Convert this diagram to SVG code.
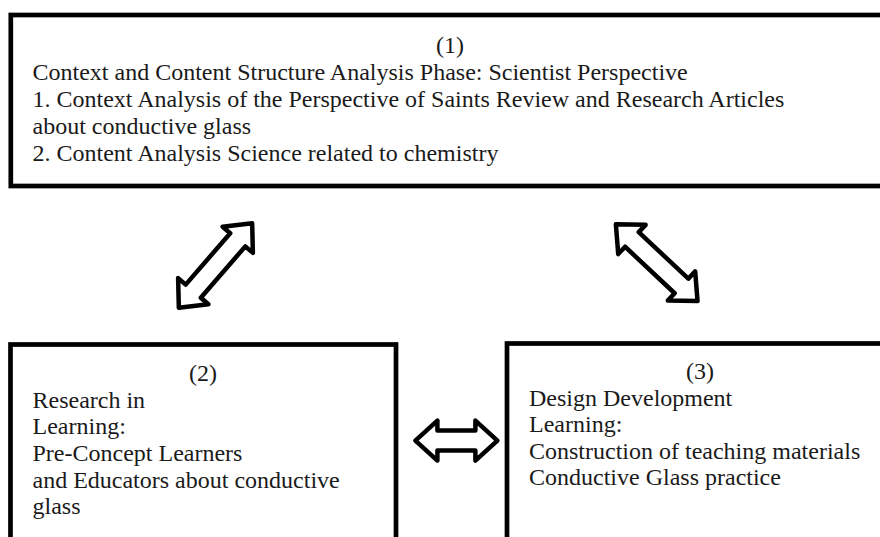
<svg xmlns="http://www.w3.org/2000/svg" width="880" height="537" viewBox="0 0 880 537">
  <style>
    .box { fill: #ffffff; stroke: #000000; stroke-width: 4.7; }
    .arrow { fill: #ffffff; stroke: #000000; stroke-width: 4.5; stroke-linejoin: round; }
    text { font-family: "Liberation Serif", "Times New Roman", serif; font-size: 24px; fill: #1a1a1a; }
    .head { text-anchor: middle; }
  </style>
  <rect width="880" height="537" fill="#ffffff"/>

  <!-- Phase 1: context and content structure analysis -->
  <g id="node-phase1">
    <rect class="box" x="10.8" y="15" width="880" height="171"/>
    <text class="head" x="450" y="53">(1)</text>
    <text x="32.5" y="80">Context and Content Structure Analysis Phase: Scientist Perspective</text>
    <text x="32.5" y="107">1. Context Analysis of the Perspective of Saints Review and Research Articles</text>
    <text x="32.5" y="134">about conductive glass</text>
    <text x="32.5" y="161">2. Content Analysis Science related to chemistry</text>
  </g>

  <!-- Phase 2: research in learning -->
  <g id="node-phase2">
    <rect class="box" x="10.5" y="344.5" width="385.5" height="210"/>
    <text class="head" x="203" y="381">(2)</text>
    <text x="32.5" y="407.5">Research in</text>
    <text x="32.5" y="434">Learning:</text>
    <text x="32.5" y="460.5">Pre-Concept Learners</text>
    <text x="32.5" y="487.5">and Educators about conductive</text>
    <text x="32.5" y="514">glass</text>
  </g>

  <!-- Phase 3: design development -->
  <g id="node-phase3">
    <rect class="box" x="507" y="343.5" width="400" height="210"/>
    <text class="head" x="700" y="379">(3)</text>
    <text x="529" y="405.5">Design Development</text>
    <text x="529" y="432">Learning:</text>
    <text x="529" y="458.5">Construction of teaching materials</text>
    <text x="529" y="485">Conductive Glass practice</text>
  </g>

  <!-- Two-headed block arrows between the phases -->
  <g id="connectors">
    <path class="arrow" transform="translate(215.5 265.5) rotate(-49.1)"
          d="M -56 0 L -34 -20 L -34 -10 L 34 -10 L 34 -20 L 56 0 L 34 20 L 34 10 L -34 10 L -34 20 Z"/>
    <path class="arrow" transform="translate(656.7 262.7) rotate(43.2)"
          d="M -56 0 L -34 -20 L -34 -10 L 34 -10 L 34 -20 L 56 0 L 34 20 L 34 10 L -34 10 L -34 20 Z"/>
    <path class="arrow" transform="translate(456.4 440.6)"
          d="M -41 0 L -19 -20 L -19 -10 L 19 -10 L 19 -20 L 41 0 L 19 20 L 19 10 L -19 10 L -19 20 Z"/>
  </g>
</svg>
